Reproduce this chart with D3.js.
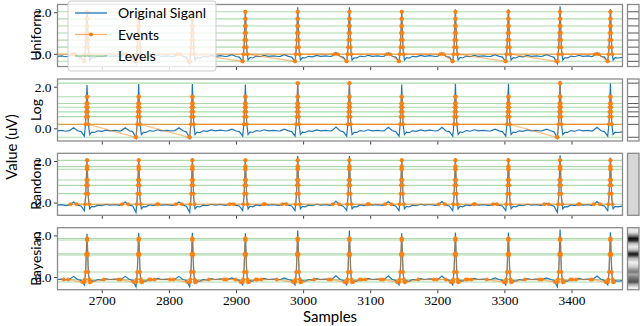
<!DOCTYPE html>
<html>
<head>
<meta charset="utf-8">
<script src="https://cdn.jsdelivr.net/npm/d3@7"></script>
<style>
  body { margin: 0; background: #fff; }
  text { fill: #000; }
</style>
</head>
<body>
<svg id="chart" width="640" height="326"></svg>
<script>
// ---- data ----
const xTicks = [2700, 2800, 2900, 3000, 3100, 3200, 3300, 3400];
const yTicks = [0, 2];
const panelNames = ["Uniform", "Log", "Random", "Bayesian"];

// original ECG signal: [sample, value]
const signal = [
  [2634,-0.12],[2640,-0.10],[2646,-0.14],[2652,-0.11],[2658,0.03],[2664,-0.12],[2669,-0.16],
  [2674,-0.38],[2676,0.30],[2678,2.08],[2680,0.20],[2682,-0.30],[2685,-0.18],[2689,-0.20],
  [2694,-0.12],[2700,-0.15],[2706,-0.09],[2712,-0.12],[2720,-0.10],[2727,-0.13],
  [2729,-0.11],[2735,0.03],[2741,-0.12],[2746,-0.16],[2751,-0.47],[2753,0.30],[2755,2.13],
  [2757,0.20],[2759,-0.30],[2762,-0.19],[2766,-0.20],[2771,-0.11],[2777,-0.14],[2783,-0.07],
  [2789,-0.12],[2797,-0.10],[2804,-0.13],
  [2809,-0.11],[2815,0.03],[2821,-0.12],[2826,-0.17],[2831,-0.47],[2833,0.30],[2835,2.13],
  [2837,0.20],[2839,-0.30],[2842,-0.18],[2846,-0.21],[2851,-0.12],[2857,-0.15],[2863,-0.08],
  [2869,-0.12],[2877,-0.09],[2884,-0.13],
  [2888,-0.11],[2894,-0.04],[2900,-0.13],[2905,-0.16],[2910,-0.38],[2912,0.30],[2914,2.10],
  [2916,0.20],[2918,-0.30],[2921,-0.17],[2925,-0.20],[2930,-0.11],[2936,-0.14],[2942,-0.07],
  [2948,-0.12],[2956,-0.10],[2963,-0.13],
  [2966,-0.12],[2972,-0.04],[2978,-0.12],[2983,-0.16],[2988,-0.38],[2990,0.30],[2992,2.24],
  [2994,0.20],[2996,-0.30],[2999,-0.18],[3003,-0.20],[3008,-0.12],[3014,-0.15],[3020,-0.08],
  [3026,-0.12],[3034,-0.10],[3040,-0.13],
  [3043,-0.11],[3049,0.06],[3055,-0.12],[3060,-0.17],[3065,-0.38],[3067,0.30],[3069,2.24],
  [3071,0.20],[3073,-0.30],[3076,-0.19],[3080,-0.20],[3085,-0.11],[3091,-0.14],[3097,-0.07],
  [3103,-0.12],[3111,-0.10],[3118,-0.13],
  [3121,-0.11],[3127,0.05],[3133,-0.12],[3138,-0.16],[3143,-0.38],[3145,0.30],[3147,2.10],
  [3149,0.20],[3151,-0.30],[3154,-0.18],[3158,-0.21],[3163,-0.12],[3169,-0.15],[3175,-0.08],
  [3181,-0.12],[3189,-0.09],[3197,-0.13],
  [3201,-0.11],[3207,0.05],[3213,-0.13],[3218,-0.16],[3223,-0.38],[3225,0.30],[3227,2.14],
  [3229,0.20],[3231,-0.30],[3234,-0.17],[3238,-0.20],[3243,-0.11],[3249,-0.14],[3255,-0.07],
  [3261,-0.12],[3269,-0.10],[3276,-0.13],
  [3280,-0.12],[3286,-0.04],[3292,-0.12],[3297,-0.16],[3302,-0.38],[3304,0.30],[3306,2.14],
  [3308,0.20],[3310,-0.30],[3313,-0.18],[3317,-0.20],[3322,-0.12],[3328,-0.15],[3334,-0.08],
  [3340,-0.12],[3348,-0.10],[3354,-0.13],
  [3357,-0.11],[3363,-0.04],[3369,-0.12],[3374,-0.17],[3379,-0.47],[3381,0.30],[3383,2.28],
  [3385,0.20],[3387,-0.30],[3390,-0.19],[3394,-0.20],[3399,-0.11],[3405,-0.14],[3411,-0.07],
  [3417,-0.12],[3425,-0.10],[3430,-0.13],
  [3432,-0.11],[3438,0.05],[3444,-0.12],[3449,-0.16],[3454,-0.38],[3456,0.30],[3458,2.15],
  [3460,0.20],[3462,-0.30],[3465,-0.18],[3469,-0.20],[3476,-0.17]
];

const levelsUniform  = [-0.36, -0.02, 0.32, 0.66, 1.00, 1.34, 1.68, 2.02];
const levelsLog      = [-0.43, 0.19, 0.56, 0.79, 1.01, 1.19, 1.52, 2.17];
const levelsRandom   = [-0.08, 0.43, 0.83, 1.09, 1.60, 1.73, 2.03];
const levelsBayesian = [-0.24, -0.12, 0.24, 1.06, 1.12, 1.78, 1.85];
const levels = [levelsUniform, levelsLog, levelsRandom, levelsBayesian];

// level where the event trace sits between beats (null = none)
const holdLevels = [-0.02, 0.19, null, null];

// grey density shown beside the Bayesian panel: [value, darkness]
const bayesDensity = [
  [2.37,0.12],[2.15,0.2],[2.0,0.55],[1.85,0.95],[1.75,0.85],[1.6,0.35],[1.45,0.15],
  [1.3,0.35],[1.12,0.9],[1.05,0.85],[0.9,0.4],[0.7,0.12],[0.5,0.3],[0.35,0.5],
  [0.24,0.6],[0.12,0.45],[0.02,0.55],[-0.08,0.65],[-0.15,0.7],[-0.24,0.75],
  [-0.35,0.45],[-0.5,0.15],[-0.61,0.08]
];
const randomBarFill = "#d6d6d6";

// ---- layout ----
const svg = d3.select("#chart");
const left = 57.5, right = 622.5, ph = 62;
const tops = [4.5, 79, 153.3, 227.7];
const barX = 627.5, barW = 11.5;
const sans = "Lato, 'Open Sans', sans-serif";
const serif = "'Liberation Serif', 'DejaVu Serif', serif";

const x = d3.scaleLinear().domain([2634, 3476]).range([left, right]);

function crossings(lv) {
  const ev = [];
  for (let i = 1; i < signal.length; i++) {
    const [t0, v0] = signal[i - 1], [t1, v1] = signal[i];
    const hit = lv.filter(L => (v0 - L) * (v1 - L) < 0);
    hit.sort((a, b) => v1 > v0 ? a - b : b - a);
    hit.forEach(L => ev.push([t0 + (L - v0) / (v1 - v0) * (t1 - t0), L]));
  }
  return ev;
}

const defs = svg.append("defs");

panelNames.forEach((name, p) => {
  const top = tops[p];
  const y = d3.scaleLinear().domain([-0.61, 2.37]).range([top + ph, top]);
  const g = svg.append("g");

  defs.append("clipPath").attr("id", "clip" + p)
    .append("rect").attr("x", left).attr("y", top).attr("width", right - left).attr("height", ph);

  const inner = g.append("g").attr("clip-path", `url(#clip${p})`);

  // levels
  inner.selectAll(".lvl").data(levels[p]).enter().append("line")
    .attr("x1", left).attr("x2", right)
    .attr("y1", d => y(d)).attr("y2", d => y(d))
    .attr("stroke", "#2ca02c").attr("stroke-opacity", 0.4).attr("stroke-width", 1.1);

  // original signal
  const line = d3.line().x(d => x(d[0])).y(d => y(d[1]));
  inner.append("path").datum(signal).attr("d", line)
    .attr("fill", "none").attr("stroke", "#1f77b4").attr("stroke-width", 1.2);

  // events
  if (holdLevels[p] !== null) {
    inner.append("line").attr("x1", left).attr("x2", right)
      .attr("y1", y(holdLevels[p])).attr("y2", y(holdLevels[p]))
      .attr("stroke", "#ff7f0e").attr("stroke-opacity", 0.6).attr("stroke-width", 1.2);
  }
  const ev = crossings(levels[p]);
  inner.append("path").datum(ev).attr("d", line)
    .attr("fill", "none").attr("stroke", "#ff7f0e").attr("stroke-opacity", 0.5).attr("stroke-width", 1.3);
  inner.selectAll(".ev").data(ev).enter().append("circle")
    .attr("cx", d => x(d[0])).attr("cy", d => y(d[1])).attr("r", 2)
    .attr("fill", "#ff7f0e").attr("fill-opacity", 0.9);

  // axes
  const ax = g.append("g").attr("transform", `translate(0,${top + ph})`)
    .call(d3.axisBottom(x).tickValues(xTicks).tickSize(3.5).tickPadding(2)
      .tickFormat(p === 3 ? d3.format("d") : ""));
  const ay = g.append("g").attr("transform", `translate(${left},0)`)
    .call(d3.axisLeft(y).tickValues(yTicks).tickSize(3.5).tickPadding(2.5));
  [ax, ay].forEach(a => {
    a.select(".domain").remove();
    a.selectAll(".tick line").attr("stroke", "#444");
    a.selectAll(".tick text").style("font-family", serif).style("font-size", "13.5px").attr("fill", "#000");
  });

  // frame
  g.append("rect").attr("x", left).attr("y", top).attr("width", right - left).attr("height", ph)
    .attr("fill", "none").attr("stroke", "#8a8a8a").attr("stroke-width", 1.3);

  // panel label
  g.append("text")
    .attr("transform", `translate(41,${top + ph / 2}) rotate(-90)`)
    .attr("text-anchor", "middle")
    .style("font-family", sans).style("font-size", "14px")
    .text(name);

  // side bar
  const bar = svg.append("g");
  if (p === 2) {
    bar.append("rect").attr("x", barX).attr("y", top).attr("width", barW).attr("height", ph)
      .attr("fill", randomBarFill);
  } else if (p === 3) {
    const grad = defs.append("linearGradient").attr("id", "bayesGrad")
      .attr("gradientUnits", "userSpaceOnUse")
      .attr("x1", 0).attr("x2", 0).attr("y1", top).attr("y2", top + ph);
    grad.selectAll("stop").data(bayesDensity).enter().append("stop")
      .attr("offset", d => (y(d[0]) - top) / ph)
      .attr("stop-color", d => d3.interpolateGreys(d[1]));
    bar.append("rect").attr("x", barX).attr("y", top).attr("width", barW).attr("height", ph)
      .attr("fill", "url(#bayesGrad)");
  } else {
    bar.selectAll("line").data(levels[p]).enter().append("line")
      .attr("x1", barX).attr("x2", barX + barW)
      .attr("y1", d => y(d)).attr("y2", d => y(d))
      .attr("stroke", "#555").attr("stroke-width", 1);
  }
  bar.append("rect").attr("x", barX).attr("y", top).attr("width", barW).attr("height", ph)
    .attr("fill", "none").attr("stroke", "#8a8a8a").attr("stroke-width", 1.3);
});

// legend
const lg = svg.append("g");
lg.append("rect").attr("x", 68).attr("y", 1).attr("width", 148).attr("height", 70).attr("rx", 3)
  .attr("fill", "#fff").attr("fill-opacity", 0.8).attr("stroke", "#cccccc");
const legendItems = [
  { label: "Original Siganl", color: "#1f77b4", op: 1, marker: false },
  { label: "Events", color: "#ff7f0e", op: 0.6, marker: true },
  { label: "Levels", color: "#2ca02c", op: 0.5, marker: false }
];
legendItems.forEach((d, i) => {
  const yy = 13 + i * 21.5;
  lg.append("line").attr("x1", 75).attr("x2", 107).attr("y1", yy).attr("y2", yy)
    .attr("stroke", d.color).attr("stroke-opacity", d.op).attr("stroke-width", 1.3);
  if (d.marker) {
    lg.append("circle").attr("cx", 91).attr("cy", yy).attr("r", 2).attr("fill", d.color);
  }
  lg.append("text").attr("x", 118).attr("y", yy + 5)
    .style("font-family", sans).style("font-size", "14px").text(d.label);
});

// axis titles
svg.append("text").attr("x", 330).attr("y", 321.5).attr("text-anchor", "middle")
  .style("font-family", sans).style("font-size", "15px").text("Samples");
svg.append("text").attr("transform", "translate(16.5,147) rotate(-90)").attr("text-anchor", "middle")
  .style("font-family", sans).style("font-size", "15px").text("Value (uV)");
</script>
</body>
</html>
